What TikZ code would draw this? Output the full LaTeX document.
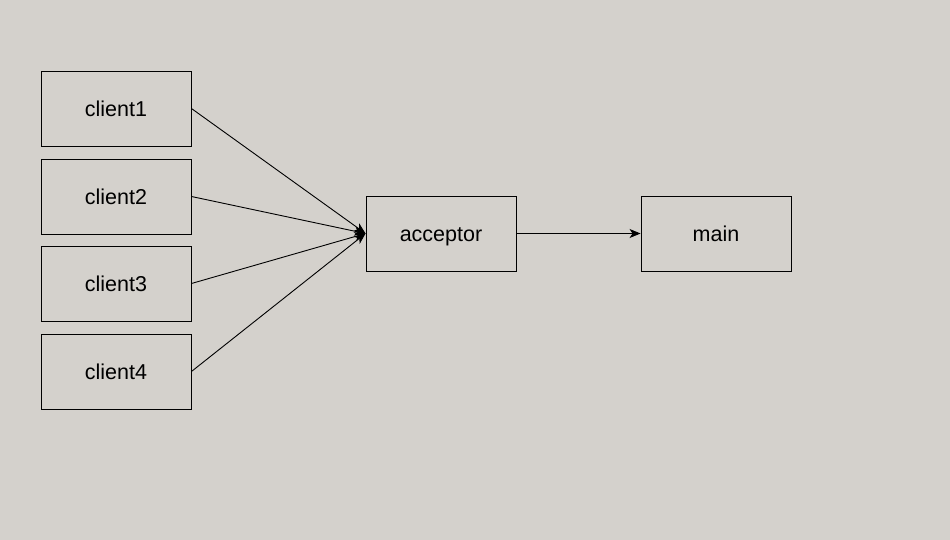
\documentclass[tikz,border=0pt]{standalone}
\usepackage{fontspec}
\setmainfont{Liberation Sans}
\usetikzlibrary{arrows.meta}
\definecolor{bg}{HTML}{D4D1CC}
\begin{document}
\begin{tikzpicture}[x=1pt,y=-1pt,
  box/.style={draw=black,line width=0.9pt,minimum width=150pt,minimum height=75pt,inner sep=0pt,text height=18pt,text depth=1.5pt,font=\fontsize{21.5}{26}\selectfont},
  conn/.style={draw=black,line width=0.9pt,-{Stealth[length=11pt,width=9pt,inset=3pt]}}]
\fill[bg] (0,0) rectangle (950,540);
\useasboundingbox (0,0) rectangle (950,540);
\node[box] (c1) at (116,108.5) {client1};
\node[box] (c2) at (116,196.5) {client2};
\node[box] (c3) at (116,283.5) {client3};
\node[box] (c4) at (116,371.5) {client4};
\node[box] (acc) at (441,233.5) {acceptor};
\node[box] (main) at (716,233.5) {main};
\draw[conn] (c1.east) -- (acc.west);
\draw[conn] (c2.east) -- (acc.west);
\draw[conn] (c3.east) -- (acc.west);
\draw[conn] (c4.east) -- (acc.west);
\draw[conn] (acc.east) -- (main.west);
\end{tikzpicture}
\end{document}
